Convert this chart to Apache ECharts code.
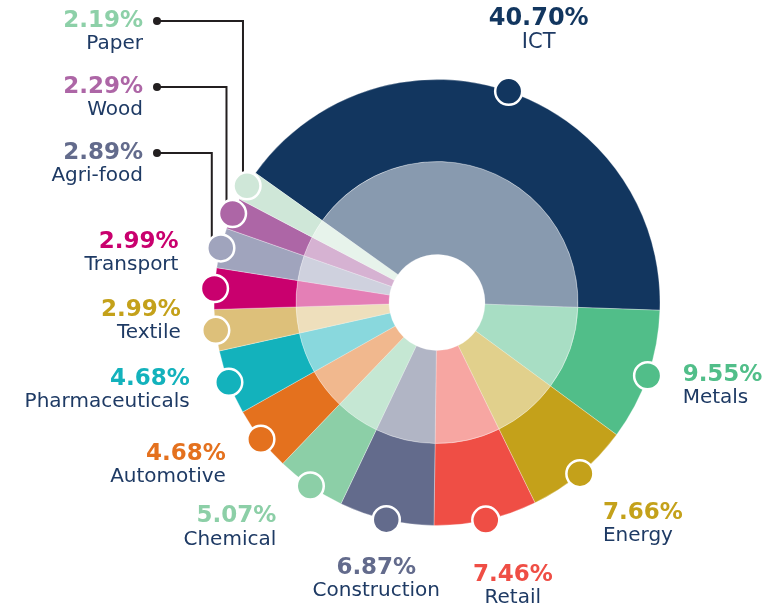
<!DOCTYPE html>
<html>
<head>
<meta charset="utf-8">
<title>Sector shares</title>
<script src="https://cdn.jsdelivr.net/npm/echarts@6/dist/echarts.min.js"></script>
<style>
  html, body { margin: 0; padding: 0; background: #fff; }
  #chart { width: 776px; height: 610px; }
</style>
</head>
<body>
<div id="chart"></div>
<script>
// data
const sectors = ["ICT", "Metals", "Energy", "Retail", "Construction", "Chemical", "Automotive",
  "Pharmaceuticals", "Textile", "Transport", "Agri-food", "Wood", "Paper"];
const shares = [40.70, 9.55, 7.66, 7.46, 6.87, 5.07, 4.68, 4.68, 2.99, 2.99, 2.89, 2.29, 2.19];

// styles
const sliceColors = ["#12365f", "#51be89", "#c4a11a", "#ef4e45", "#636b8c", "#8ccfa7", "#e4711e",
  "#13b2bc", "#ddc07a", "#c9006e", "#a0a4bd", "#ad66a6", "#cfe7d8"];
const pctColors = ["#12365f", "#51be89", "#c4a11a", "#ef4e45", "#636b8c", "#8ccfa7", "#e4711e",
  "#13b2bc", "#c4a11a", "#c9006e", "#636b8c", "#ad66a6", "#8dd0a8"];
const nameColor = "#1e3a64";
const font = "DejaVu Sans";

const center = [437, 302.5];
const startAngle = 144.5;

// where each label sits, measured from its marker: [dx, dy, align]
// the three small ones get a leader line to a fixed row on the left
const spots = [
  [30, -61, "center"],
  [35, 11, "left"],
  [23, 51, "left"],
  [27, 66, "center"],
  [-10, 60, "center"],
  [-34, 42, "right"],
  [-35, 26, "right"],
  [-39, 8, "right"],
  [-35, -9, "right"],
  [-36, -35, "right"],
  { x: 161, row: 153, lineDx: -9 },
  { x: 161, row: 87, lineDx: -6 },
  { x: 161, row: 21, lineDx: -4 }
];

const total = shares.reduce((a, b) => a + b, 0);
const mids = [];
let run = 0;
shares.forEach(v => { mids.push(run + v / 2); run += v; });

const rich = {
  n: { fontFamily: font, fontSize: 20, lineHeight: 23, color: nameColor },
  nBig: { fontFamily: font, fontSize: 21, lineHeight: 24, color: nameColor },
  gap: { width: 10 },
  gap2: { width: 18 },
  dot: { width: 8, height: 8, borderRadius: 4, backgroundColor: "#231f20" }
};
pctColors.forEach((c, i) => {
  rich["p" + i] = { fontFamily: font, fontWeight: "bold", fontSize: i === 0 ? 24 : 23,
    lineHeight: i === 0 ? 25 : 23, color: c };
});

const myChart = echarts.init(document.getElementById("chart"));
const option = {
  animation: false,
  backgroundColor: "#fff",
  polar: { center: center, radius: 223 },
  angleAxis: { type: "value", min: 0, max: total, startAngle: startAngle, clockwise: true, show: false },
  radiusAxis: { type: "value", min: 0, max: 1, show: false },
  series: [
    {
      type: "pie",
      silent: true,
      center: center,
      radius: [48, 141],
      startAngle: startAngle,
      label: { show: false },
      labelLine: { show: false },
      itemStyle: { opacity: 0.5, borderColor: "#fff", borderWidth: 0.5 },
      data: sectors.map((s, i) => ({ name: s, value: shares[i], itemStyle: { color: sliceColors[i] } }))
    },
    {
      type: "pie",
      silent: true,
      center: center,
      radius: [141, 223],
      startAngle: startAngle,
      avoidLabelOverlap: false,
      itemStyle: { borderColor: "rgba(255,255,255,0.6)", borderWidth: 0.5 },
      label: {
        show: true,
        position: "outside",
        rich: rich,
        formatter: function (p) {
          const i = p.dataIndex;
          const pct = shares[i].toFixed(2) + "%";
          if (!Array.isArray(spots[i])) {
            return "{p" + i + "|" + pct + "}{gap|}{dot|}\n{n|" + p.name + "}{gap2|}";
          }
          return "{p" + i + "|" + pct + "}\n{" + (i === 0 ? "nBig" : "n") + "|" + p.name + "}";
        }
      },
      labelLine: { show: true, length: 10, length2: 10 },
      labelLayout: function (params) {
        const pts = params.labelLinePoints;
        if (!pts) return {};
        const s = spots[params.dataIndex];
        const mx = pts[0][0], my = pts[0][1];
        if (Array.isArray(s)) {
          return { x: mx + s[0], y: my + s[1], align: s[2], verticalAlign: "middle",
            labelLinePoints: [[mx, my], [mx, my], [mx, my]] };
        }
        const lx = mx + s.lineDx;
        return { x: s.x, y: s.row + 11.5, align: "right", verticalAlign: "middle",
          labelLinePoints: [[lx, my - 8], [lx, s.row], [s.x - 4, s.row]] };
      },
      data: sectors.map((s, i) => ({
        name: s,
        value: shares[i],
        itemStyle: { color: sliceColors[i] },
        labelLine: { lineStyle: Array.isArray(spots[i]) ? { opacity: 0 } : { color: "#231f20", width: 2, opacity: 1 } }
      }))
    },
    {
      type: "scatter",
      coordinateSystem: "polar",
      silent: true,
      z: 5,
      symbolSize: 27,
      itemStyle: { borderColor: "#fff", borderWidth: 2.5, opacity: 1 },
      data: mids.map((m, i) => ({ value: [1, m], itemStyle: { color: sliceColors[i] } }))
    }
  ]
};
myChart.setOption(option);
window.addEventListener("resize", function () {
  myChart.resize();
});
</script>
</body>
</html>
